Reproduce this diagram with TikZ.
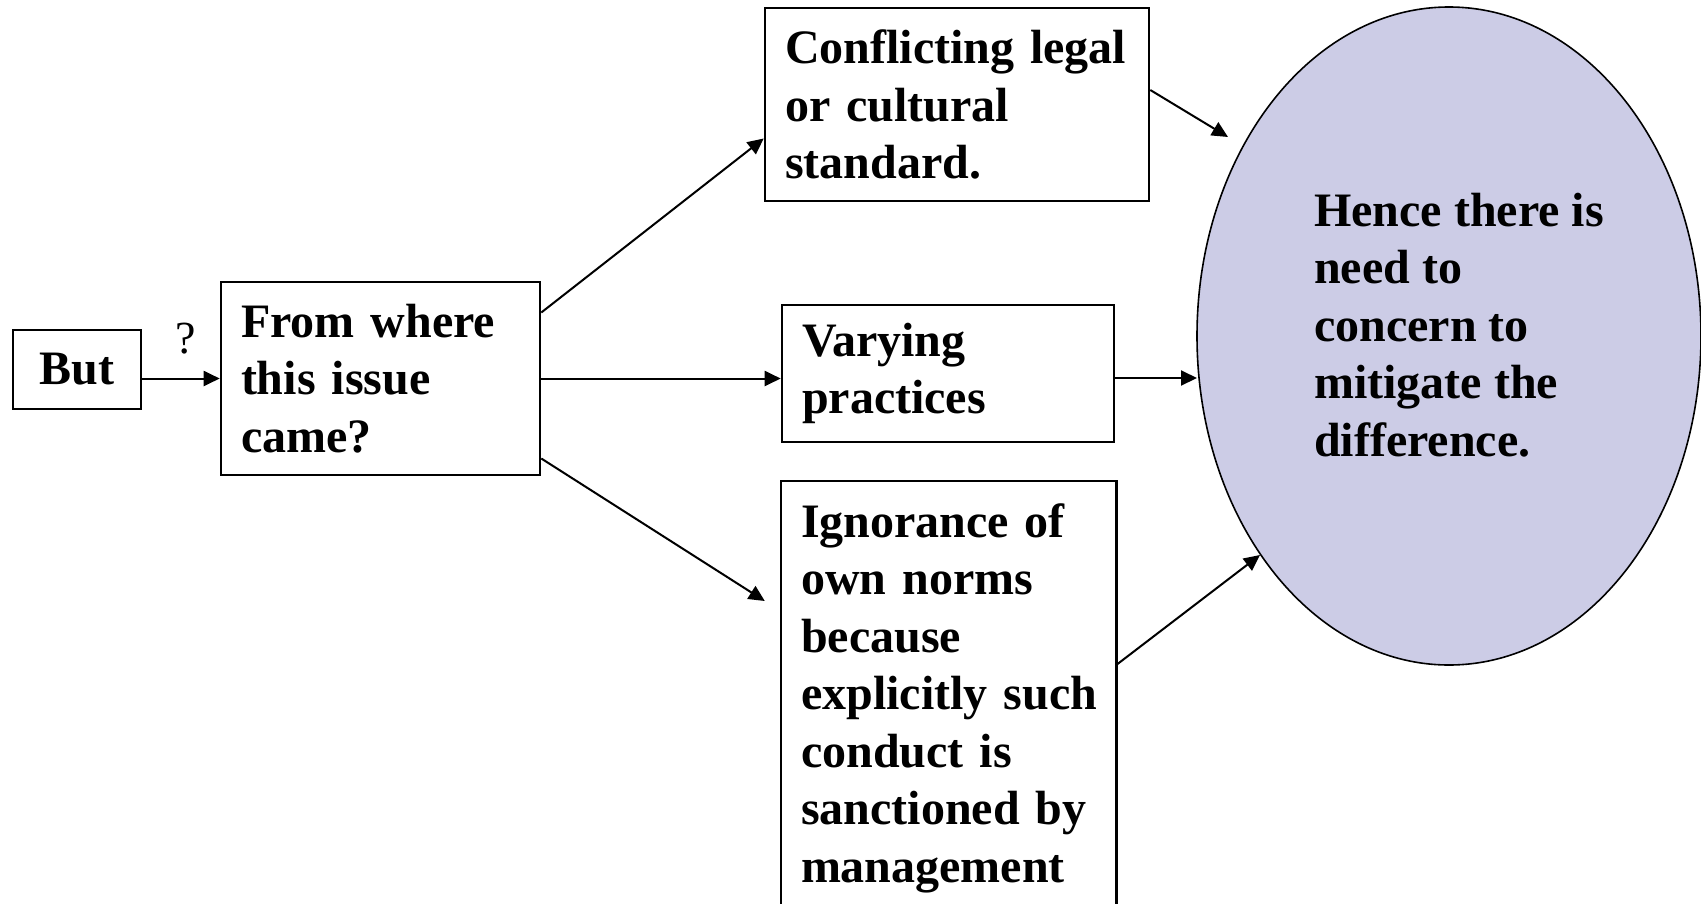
\documentclass[tikz,border=0pt]{standalone}
\usepackage{fontspec}
\setmainfont{Liberation Serif}
\usetikzlibrary{arrows.meta,shapes.geometric,calc}
\definecolor{lav}{RGB}{204,204,230}
\begin{document}
\begin{tikzpicture}[x=1pt,y=-1pt,
  txt/.style={font=\bfseries\fontsize{48}{57.5}\selectfont},
  boxnode/.style={txt,draw,line width=2.6pt,align=left,inner xsep=20pt,inner ysep=0pt},
  conn/.style={line width=2pt,-{Triangle[length=16pt,width=15pt]}}]
\useasboundingbox (0,0) rectangle (1701,903);
\clip (0,0) rectangle (1701,903);

% target ellipse
\node[ellipse,draw,line width=1.6pt,fill=lav,minimum width=504pt,minimum height=658pt,inner sep=0pt] (ell) at (1449,336) {};
\node[txt,align=left,anchor=west,inner sep=0pt] (elltxt) at (1314,325) {Hence~there~is\\need~to\\concern~to\\mitigate~the\\difference.};

% boxes
\node[boxnode,text width=88pt,minimum height=79pt,align=center] (but) at (77,369.5) {But};
\node[boxnode,text width=279pt,minimum height=193pt] (from) at (380.5,378.5) {From~where\\this~issue\\came?};
\node[boxnode,text width=344pt,minimum height=193pt] (conf) at (957,104.5) {Conflicting~legal\\or~cultural\\standard.};
\node[boxnode,text width=292pt,minimum height=137pt] (vary) at (948,373.5) {Varying\\practices};
\node[txt,align=left,text width=295pt,inner xsep=20pt,inner ysep=22pt,anchor=north] (ign) at (948.5,481) {Ignorance~of\\own~norms\\because\\\mbox{explicitly~such}\\conduct~is\\sanctioned~by\\management};
\draw[line width=2.6pt] ([yshift=-100pt]ign.south west) -- (ign.north west) -- (ign.north east) -- ([yshift=-100pt]ign.south east);

% question mark
\node[font=\fontsize{46}{50}\selectfont,inner sep=0pt] (q) at (186,339) {?};

% connectors
\draw[conn] (but.east |- from.west) -- (from.west);
\draw[conn] ([yshift=66pt]from.east) -- ([yshift=-34pt]conf.west);
\draw[conn] (from.east) -- (vary.west |- from.east);
\draw[conn] ([yshift=-80pt]from.east) -- ([shift={(-16pt,-120pt)}]ign.north west);
\draw[conn] ([yshift=14.5pt]conf.east) -- ([shift={(-221pt,199pt)}]ell.center);
\draw[conn] ([yshift=-4.5pt]vary.east) -- ([shift={(-252pt,-42pt)}]ell.center);
\draw[conn] ([yshift=-184pt]ign.north east) -- ([shift={(-189pt,-219pt)}]ell.center);
\end{tikzpicture}
\end{document}
